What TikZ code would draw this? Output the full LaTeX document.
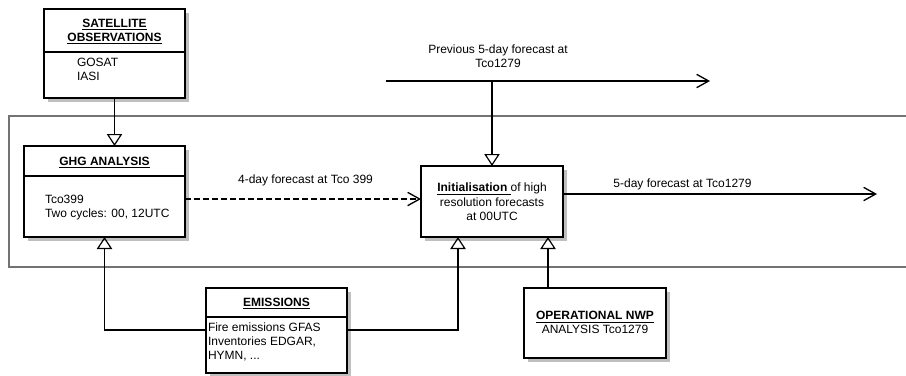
\documentclass[tikz,border=0pt]{standalone}
\usepackage{fontspec}
\setmainfont{Liberation Sans}
\usetikzlibrary{arrows.meta,calc,shadows}
\begin{document}
\begin{tikzpicture}[x=0.75pt,y=-0.75pt,
  font=\fontsize{9pt}{10.5pt}\selectfont,
  box/.style={draw=black,line width=1.5pt,fill=white,inner sep=0pt,outer sep=0pt,anchor=north west,
    drop shadow={shadow xshift=3pt,shadow yshift=-3pt,fill=black!25,opacity=1}},
  divider/.style={draw=black,line width=1.3pt},
  txt/.style={inner sep=0pt,outer sep=0pt},
  conn/.style={draw=black,line width=1pt},
  tri/.style={conn,-{Triangle[open,width=11.5pt,length=9pt,line width=0.9pt]}},
  barb/.style={conn,-{Straight Barb[length=9pt,width=10pt]}},
  container/.style={draw=black!55,line width=1pt}
]
\useasboundingbox (0,0) rectangle (906,375);
% container (open to the right)
\draw[container] (910,116) -- (9,116) -- (9,267) -- (910,267);

% boxes
\node[box,minimum width=105.75pt,minimum height=66.75pt] (sat) at (44,9) {};
\node[box,minimum width=120.75pt,minimum height=68.25pt] (ghg) at (24,146) {};
\node[box,minimum width=106.5pt,minimum height=53.25pt] (init) at (421,166) {};
\node[box,minimum width=105.75pt,minimum height=63.75pt] (emis) at (206,288) {};
\node[box,minimum width=106.5pt,minimum height=52.5pt] (nwp) at (524,288) {};

% dividers
\draw[divider] ($(sat.north west)+(0,43)$) -- ($(sat.north east)+(0,43)$);
\draw[divider] ($(ghg.north west)+(0,30)$) -- ($(ghg.north east)+(0,30)$);
\draw[divider] ($(emis.north west)+(0,29)$) -- ($(emis.north east)+(0,29)$);

% texts
\node[txt,anchor=north,align=center] (satT) at (114.5,18.7) {\textbf{\underline{SATELLITE}}\\\textbf{\underline{OBSERVATIONS}}};
\node[txt,anchor=north west,align=left] (satB) at (77,57.7) {GOSAT\\IASI};
\node[txt,anchor=base] (ghgT) at (104.5,165.3) {\textbf{\underline{GHG ANALYSIS}}};
\node[txt,anchor=north west,align=left] (ghgB) at (45,194.7) {Tco399\\Two cycles: 00, 12UTC};
\node[txt,anchor=north,align=center,font=\fontsize{9pt}{10.7pt}\selectfont] (initT) at (492,183.2) {\underline{\textbf{Initialisation}\ }of high\\resolution forecasts\\at 00UTC};
\node[txt,anchor=base] (emisT) at (276.5,306.3) {\textbf{\underline{EMISSIONS}}};
\node[txt,anchor=north west,align=left] (emisB) at (208,322.4) {Fire emissions GFAS\\Inventories EDGAR,\\HYMN, ...};
\node[txt,anchor=north,align=center] (nwpT) at (595,311.4) {\textbf{\underline{OPERATIONAL NWP}}\\ANALYSIS Tco1279};
\node[txt,anchor=base] (lab4) at (305.5,183.6) {4-day forecast at Tco 399};
\node[txt,anchor=north,align=center] (labprev) at (498,44.7) {Previous 5-day forecast at\\Tco1279};
\node[txt,anchor=base] (lab5) at (682.5,187) {5-day forecast at Tco1279};

% free ends
\coordinate (prevstart) at (386,81);
\coordinate (prevend) at (710,81);
\coordinate (fcend) at (877,194);

% connectors
\draw[tri] (sat.south) -- (sat.south |- ghg.north);
\draw[barb,dash pattern=on 4.5pt off 2.25pt] (ghg.east |- {$(init.north west)+(0,33)$}) -- ($(init.north west)+(0,33)$);
\draw[barb] (prevstart) -- (prevend);
\draw[tri] (init.north |- prevstart) -- (init.north);
\draw[barb] ($(init.north east)+(0,28)$) -- (fcend |- {$(init.north east)+(0,28)$});
\draw[tri] ($(emis.north west)+(0,42)$) -| (ghg.south);
\draw[tri] ($(emis.north east)+(0,42)$) -| ($(init.south west)+(37,0)$);
\draw[tri] ($(nwp.north west)+(24,0)$) -- ($(init.south west)+(127,0)$);
\end{tikzpicture}
\end{document}
